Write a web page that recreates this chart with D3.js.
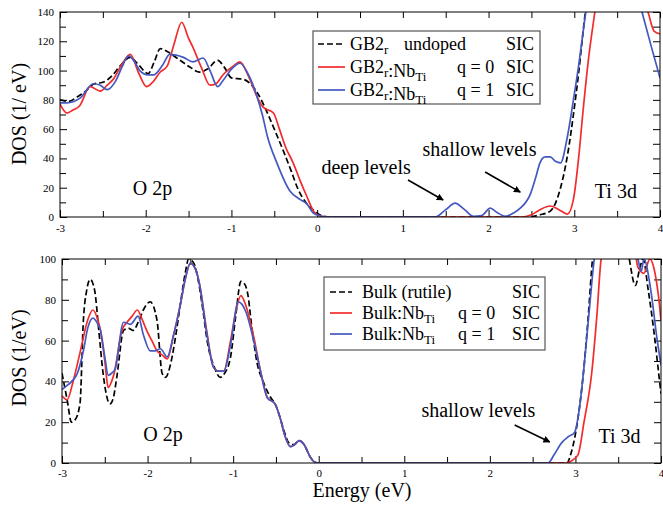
<!DOCTYPE html>
<html>
<head>
<meta charset="utf-8">
<script src="https://cdn.jsdelivr.net/npm/d3@7"></script>
<style>
  body { margin: 0; background: #fff; }
  svg { display: block; font-family: "Liberation Serif", "Times New Roman", serif; }
  .tick text { font-size: 11px; font-family: "Liberation Serif", serif; fill: #000; }
  .tick line { stroke: #000; stroke-width: 1; }
  .domain { display: none; }
</style>
</head>
<body>
<svg id="dos-plot" width="663" height="505"></svg>
<script>
// energy axis shared by both panels
const energyTicks = [-3, -2, -1, 0, 1, 2, 3, 4];
const energyTickLabels = ["-3", "-2", "-1", "0", "1", "2", "3", "4"];
const energyMinor = [-2.5, -1.5, -0.5, 0.5, 1.5, 2.5, 3.5];

// top panel: GB2r grain boundary, [energy eV, DOS 1/eV]
const gbTicks = [0, 20, 40, 60, 80, 100, 120, 140];
const gbMinor = [10, 30, 50, 70, 90, 110, 130];
const gbUndoped = [[-3,80],[-2.9,79],[-2.8,82],[-2.7,86],[-2.6,91],[-2.5,92],[-2.4,96],[-2.3,103],[-2.18,109],[-2.1,105],
  [-1.97,98],[-1.9,106],[-1.83,115],[-1.75,113],[-1.6,107],[-1.5,103],[-1.37,99],[-1.28,101],[-1.16,107],[-1.08,102],
  [-1.0,95],[-0.86,94],[-0.78,91],[-0.7,85],[-0.58,71],[-0.5,60],[-0.4,46],[-0.3,31],[-0.23,20],[-0.12,9],[-0.05,5],
  [0.05,1],[0.15,0],[2.45,0],[2.6,1.5],[2.72,4],[2.84,20],[2.92,42],[2.99,70],[3.05,98],[3.1,125],[3.15,150],
  [3.3,185],[3.6,190],[3.9,160],[4,150]];
const gbNbQ0 = [[-3,77],[-2.92,71],[-2.85,73],[-2.77,76],[-2.65,89],[-2.53,86],[-2.45,90],[-2.38,94],[-2.28,104],[-2.18,111],
  [-2.08,98],[-1.99,89],[-1.92,92],[-1.83,99],[-1.75,103],[-1.67,118],[-1.58,133],[-1.5,122],[-1.45,116],[-1.35,102],
  [-1.25,90],[-1.18,91],[-1.1,97],[-0.98,103],[-0.9,106],[-0.8,96],[-0.7,82],[-0.63,75],[-0.51,71],[-0.44,60],
  [-0.37,48],[-0.28,37],[-0.2,25],[-0.12,14],[-0.03,3],[0.05,0.5],[0.15,0],[2.4,0],[2.5,1.5],[2.6,5],[2.72,7.5],
  [2.82,5],[2.92,2],[2.99,12],[3.05,40],[3.1,71],[3.17,110],[3.24,140],[3.3,165],[3.6,175],[3.86,140],[3.93,127],[4,125]];
const gbNbQ1 = [[-3,78],[-2.92,78],[-2.77,81],[-2.61,91],[-2.53,90],[-2.45,87],[-2.35,93],[-2.28,102],[-2.2,110],[-2.12,105],
  [-2.07,100],[-1.97,97],[-1.91,97],[-1.8,104],[-1.72,111],[-1.56,109],[-1.45,106],[-1.33,108.6],[-1.25,100],[-1.16,89],
  [-1.1,93],[-1.0,101],[-0.9,105],[-0.8,97],[-0.7,82],[-0.64,70],[-0.58,55],[-0.47,37],[-0.32,18],[-0.2,12],[-0.12,9],
  [-0.05,3],[0.02,1],[0.1,0],[1.38,0],[1.5,5],[1.61,9.5],[1.72,5],[1.82,0.5],[1.92,1],[2.02,6],[2.1,3],[2.2,0.5],
  [2.3,3],[2.37,6],[2.49,16],[2.55,27],[2.6,37],[2.66,41],[2.72,41],[2.78,38],[2.84,37],[2.92,55],[2.99,80],[3.05,103],
  [3.1,125],[3.15,145],[3.4,175],[3.7,160],[3.79,140],[3.9,116],[4,95]];

// bottom panel: bulk rutile
const bulkTicks = [0, 20, 40, 60, 80, 100];
const bulkMinor = [10, 30, 50, 70, 90];
const bulkPure = [[-3,44],[-2.94,31],[-2.89,20],[-2.85,21],[-2.79,29],[-2.75,70],[-2.71,85],[-2.67,90],[-2.62,85],[-2.57,65],
  [-2.52,44],[-2.44,29],[-2.4,32],[-2.36,42],[-2.28,65],[-2.22,66],[-2.17,65],[-2.1,70],[-2.05,75],[-1.97,79],[-1.89,70],
  [-1.83,44],[-1.79,42],[-1.74,47],[-1.68,60],[-1.62,77],[-1.56,93],[-1.52,100],[-1.46,98],[-1.41,90],[-1.35,74],
  [-1.3,59],[-1.22,47],[-1.15,42],[-1.1,44],[-1.03,52],[-0.97,72],[-0.91,89],[-0.87,88],[-0.83,83],[-0.78,66],[-0.72,49],
  [-0.65,40],[-0.56,32],[-0.51,29],[-0.45,22],[-0.4,15],[-0.35,10],[-0.29,9],[-0.23,11],[-0.17,9],[-0.1,3],[-0.05,0.5],
  [0,0],[2.9,0],[2.95,5],[2.99,12],[3.05,28],[3.1,47],[3.15,72],[3.2,100],[3.35,130],[3.55,125],[3.63,100],[3.7,87],
  [3.75,95],[3.79,100],[3.85,85],[3.93,60],[3.97,45],[4,34]];
const bulkNbQ0 = [[-3,33],[-2.94,31],[-2.87,40],[-2.79,54],[-2.7,70],[-2.64,75],[-2.58,70],[-2.55,65],[-2.5,50],[-2.46,37],
  [-2.42,40],[-2.39,44],[-2.3,65],[-2.24,69],[-2.18,72],[-2.12,75],[-2.06,70],[-2.0,64],[-1.95,60],[-1.89,55],[-1.83,53],
  [-1.77,51],[-1.7,62],[-1.62,77],[-1.56,90],[-1.5,98],[-1.44,95],[-1.39,87],[-1.31,65],[-1.23,47],[-1.17,45],[-1.11,45],
  [-1.03,60],[-0.96,76],[-0.91,82],[-0.85,77],[-0.76,62],[-0.68,45],[-0.6,32],[-0.51,29],[-0.45,22],[-0.4,14],[-0.33,8],
  [-0.28,9],[-0.23,11],[-0.17,9],[-0.1,3],[-0.05,0.5],[0,0],[2.9,0],[2.95,1],[3.03,4],[3.1,20],[3.19,44],[3.25,72],
  [3.3,100],[3.45,125],[3.65,118],[3.73,96],[3.8,93],[3.87,100],[3.92,95],[3.97,82],[4,70]];
const bulkNbQ1 = [[-3,36],[-2.94,38],[-2.82,44],[-2.75,55],[-2.7,66],[-2.64,71],[-2.58,68],[-2.55,65],[-2.5,52],[-2.46,43],
  [-2.42,44],[-2.38,46],[-2.28,69],[-2.2,68],[-2.11,72],[-2.05,63],[-1.97,55],[-1.91,55],[-1.85,56],[-1.77,52],[-1.7,62],
  [-1.62,77],[-1.56,90],[-1.5,98],[-1.44,95],[-1.39,87],[-1.31,64],[-1.23,47],[-1.17,45],[-1.11,45],[-1.03,58],[-0.94,79],
  [-0.85,74],[-0.76,60],[-0.68,45],[-0.6,32],[-0.51,29],[-0.45,22],[-0.4,14],[-0.33,8],[-0.28,9],[-0.23,11],[-0.17,9],
  [-0.1,3],[-0.05,0.5],[0,0],[2.68,0],[2.75,4],[2.84,10],[2.92,13],[2.99,15],[3.05,28],[3.1,47],[3.16,74],[3.22,100],
  [3.4,130],[3.65,115],[3.73,100],[3.77,94],[3.8,100],[3.88,85],[3.95,62],[4,48]];

const RED = "#f22c2c", BLUE = "#4458c0";

function drawPanel(svg, cfg) {
    const x = d3.scaleLinear().domain([-3, 4]).range([cfg.left, cfg.right]);
    const y = d3.scaleLinear().domain([0, cfg.yMax]).range([cfg.bottom, cfg.top]);
    const g = svg.append("g");

    g.append("clipPath").attr("id", cfg.id + "-clip")
        .append("rect")
        .attr("x", cfg.left).attr("y", cfg.top)
        .attr("width", cfg.right - cfg.left).attr("height", cfg.bottom - cfg.top);

    // ticks on all four sides, pointing inwards
    g.append("g").attr("transform", "translate(0," + cfg.bottom + ")")
        .call(d3.axisBottom(x).tickValues(energyTicks).tickSizeInner(-7).tickSizeOuter(0)
            .tickPadding(cfg.xPad).tickFormat((d, i) => energyTickLabels[i]));
    g.append("g").attr("transform", "translate(0," + cfg.bottom + ")")
        .call(d3.axisBottom(x).tickValues(energyMinor).tickSize(-6).tickFormat(""));
    g.append("g").attr("transform", "translate(0," + cfg.top + ")")
        .call(d3.axisTop(x).tickValues(energyTicks.concat(energyMinor)).tickSize(-6).tickFormat(""));
    g.append("g").attr("transform", "translate(" + cfg.left + ",0)")
        .call(d3.axisLeft(y).tickValues(cfg.yTicks).tickSizeInner(-7).tickSizeOuter(0)
            .tickPadding(6).tickFormat(d3.format("d")));
    g.append("g").attr("transform", "translate(" + cfg.left + ",0)")
        .call(d3.axisLeft(y).tickValues(cfg.yMinor).tickSize(-6).tickFormat(""));
    g.append("g").attr("transform", "translate(" + cfg.right + ",0)")
        .call(d3.axisRight(y).tickValues(cfg.yTicks.concat(cfg.yMinor)).tickSize(-7).tickFormat(""));

    const line = d3.line()
        .x(d => x(d[0]))
        .y(d => y(d[1]))
        .curve(d3.curveMonotoneX);

    g.append("g").attr("clip-path", "url(#" + cfg.id + "-clip)")
        .selectAll("path")
        .data(cfg.series)
        .enter().append("path")
        .attr("d", d => line(d.values))
        .attr("fill", "none")
        .attr("stroke", d => d.color)
        .attr("stroke-width", 1.7)
        .attr("stroke-dasharray", d => d.dash || null);

    g.append("rect")
        .attr("x", cfg.left).attr("y", cfg.top)
        .attr("width", cfg.right - cfg.left).attr("height", cfg.bottom - cfg.top)
        .attr("fill", "none").attr("stroke", "#000").attr("stroke-width", 1);

    // y axis title
    g.append("text")
        .attr("transform", "translate(26," + cfg.titleY + ") rotate(-90)")
        .attr("text-anchor", "middle")
        .style("font-size", "20px")
        .text(cfg.yTitle);

    // band labels and arrows, placed in data coordinates
    cfg.notes.forEach(n => {
        g.append("text")
            .attr("x", x(n.x)).attr("y", y(n.y))
            .style("font-size", "20px")
            .text(n.text);
    });
    cfg.arrows.forEach(a => {
        g.append("line")
            .attr("x1", x(a[0])).attr("y1", y(a[1]))
            .attr("x2", x(a[2])).attr("y2", y(a[3]))
            .attr("stroke", "#000").attr("stroke-width", 1.6)
            .attr("marker-end", "url(#arrowhead)");
    });

    // legend
    const lg = cfg.legend;
    g.append("rect")
        .attr("x", lg.x0).attr("y", lg.y0)
        .attr("width", lg.x1 - lg.x0).attr("height", lg.y1 - lg.y0)
        .attr("fill", "#fff").attr("stroke", "#555").attr("stroke-width", 1.2);
    cfg.series.forEach((s, i) => {
        const yy = lg.rows[i];
        g.append("line")
            .attr("x1", lg.lineX[0]).attr("x2", lg.lineX[1])
            .attr("y1", yy - 6).attr("y2", yy - 6)
            .attr("stroke", s.color).attr("stroke-width", 1.7)
            .attr("stroke-dasharray", s.dash || null);
        const t = g.append("text").attr("x", lg.textX).attr("y", yy).style("font-size", "18px");
        s.label.forEach(part => {
            if (part.sub) {
                t.append("tspan").attr("font-size", "13px").attr("dy", 4).text(part.sub);
                t.append("tspan").attr("dy", -4).text("");
            } else {
                t.append("tspan").text(part.t);
            }
        });
        g.append("text").attr("x", s.midX || lg.midX).attr("y", yy).style("font-size", "18px").text(s.mid);
        g.append("text").attr("x", lg.endX).attr("y", yy).attr("text-anchor", "end")
            .style("font-size", "18px").text("SIC");
    });
}

function whenDocumentLoaded(action) {
    if (document.readyState === "loading") {
        document.addEventListener("DOMContentLoaded", action);
    } else {
        action();
    }
}

whenDocumentLoaded(() => {
    const svg = d3.select("#dos-plot");

    svg.append("defs").append("marker")
        .attr("id", "arrowhead")
        .attr("viewBox", "0 0 10 10")
        .attr("refX", 9).attr("refY", 5)
        .attr("markerWidth", 7).attr("markerHeight", 7)
        .attr("markerUnits", "userSpaceOnUse")
        .attr("orient", "auto")
        .append("path").attr("d", "M0,0 L10,5 L0,10 z").attr("fill", "#000");

    drawPanel(svg, {
        id: "gb", left: 60, right: 660, top: 12, bottom: 217, yMax: 140,
        yTicks: gbTicks, yMinor: gbMinor, xPad: 7,
        yTitle: "DOS (1/ eV)", titleY: 114,
        series: [
            {values: gbUndoped, color: "#000", dash: "6,3", label: [{t: "GB2"}, {sub: "r"}], mid: "undoped", midX: 404},
            {values: gbNbQ0, color: RED, label: [{t: "GB2"}, {sub: "r"}, {t: ":Nb"}, {sub: "Ti"}], mid: "q = 0"},
            {values: gbNbQ1, color: BLUE, label: [{t: "GB2"}, {sub: "r"}, {t: ":Nb"}, {sub: "Ti"}], mid: "q = 1"}
        ],
        notes: [
            {text: "O 2p", x: -2.15, y: 15},
            {text: "deep levels", x: 0.05, y: 29.5},
            {text: "shallow levels", x: 1.23, y: 41.5},
            {text: "Ti 3d", x: 3.24, y: 13}
        ],
        arrows: [[1.06, 25.3, 1.47, 11.6], [1.96, 30.7, 2.37, 17]],
        legend: {x0: 313, x1: 540, y0: 31, y1: 104, rows: [50, 73, 96],
                 lineX: [318, 345], textX: 350, midX: 457, endX: 534}
    });

    drawPanel(svg, {
        id: "bulk", left: 62, right: 661, top: 259, bottom: 463, yMax: 100,
        yTicks: bulkTicks, yMinor: bulkMinor, xPad: 6,
        yTitle: "DOS (1/eV)", titleY: 358,
        series: [
            {values: bulkPure, color: "#000", dash: "6,3", label: [{t: "Bulk (rutile)"}], mid: ""},
            {values: bulkNbQ0, color: RED, label: [{t: "Bulk:Nb"}, {sub: "Ti"}], mid: "q = 0"},
            {values: bulkNbQ1, color: BLUE, label: [{t: "Bulk:Nb"}, {sub: "Ti"}], mid: "q = 1"}
        ],
        notes: [
            {text: "O 2p", x: -2.05, y: 11},
            {text: "shallow levels", x: 1.2, y: 22.5},
            {text: "Ti 3d", x: 3.27, y: 10}
        ],
        arrows: [[2.29, 18.6, 2.7, 10.3]],
        legend: {x0: 324, x1: 545, y0: 277, y1: 350, rows: [298, 319, 340],
                 lineX: [330, 352], textX: 362, midX: 458, endX: 540}
    });

    svg.append("text")
        .attr("x", 362).attr("y", 497)
        .attr("text-anchor", "middle")
        .style("font-size", "20px")
        .text("Energy (eV)");
});
</script>
</body>
</html>
